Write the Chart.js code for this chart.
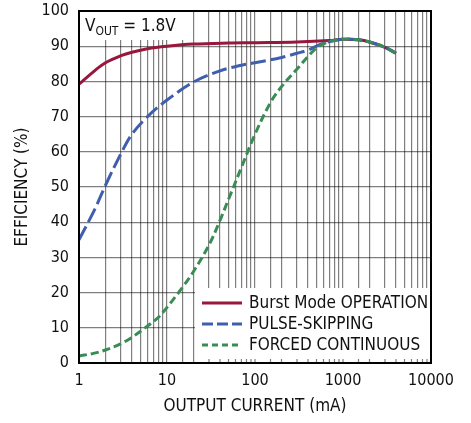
<!DOCTYPE html>
<html>
<head>
<meta charset="utf-8">
<script src="https://cdn.jsdelivr.net/npm/chart.js@4"></script>
<style>
  html, body { margin: 0; padding: 0; background: #fff; }
  #wrap { width: 471px; height: 423px; }
</style>
</head>
<body>
<div id="wrap"><canvas id="effChart" width="471" height="423"></canvas></div>
<script>
const FONT = '"DejaVu Sans Condensed", "Liberation Sans Narrow", Arial, sans-serif';
const FS = 16;

// output current (mA) and efficiency (%) per mode
const burstX = [1, 1.5, 2, 3, 4, 6, 10, 20, 50, 100, 300, 700, 1000, 1500, 2000, 3000, 4000];
const burstY = [79.2, 83, 85.3, 87.3, 88.3, 89.3, 90, 90.6, 90.9, 91, 91.2, 91.6, 92, 91.8, 91.2, 89.7, 88];

const pulseX = [1, 1.5, 2, 3, 4, 6, 10, 20, 40, 70, 100, 200, 300, 400, 550, 700, 1000, 1500, 2000, 3000, 4000];
const pulseY = [35, 43.5, 50.5, 59.5, 65, 70, 74.7, 79.8, 83, 84.6, 85.3, 86.8, 88, 88.9, 90.5, 91.3, 92, 91.8, 91.2, 89.7, 88];

const forcedX = [1, 1.5, 2, 3, 4, 6, 8, 10, 15, 20, 30, 40, 50, 70, 100, 150, 200, 300, 500, 700, 1000, 1500, 2000, 3000, 4000];
const forcedY = [2, 2.8, 3.7, 5.5, 7.3, 10.5, 13, 15.8, 21.5, 26, 33.5, 40.5, 46.5, 55.5, 65, 74, 78.5, 83.5, 89.5, 91.3, 92, 91.8, 91.2, 89.7, 88];

const seriesLabels = ['Burst Mode OPERATION', 'PULSE-SKIPPING', 'FORCED CONTINUOUS'];
const seriesColors = ['#98173d', '#3f5fae', '#3a8c55'];
const seriesDash = [[], [15, 5], [8, 4]];
const xMajor = ['1', '10', '100', '1000', '10000'];

function pts(xs, ys) {
  return xs.map((x, i) => ({ x: x, y: ys[i] }));
}

const datasets = [pts(burstX, burstY), pts(pulseX, pulseY), pts(forcedX, forcedY)].map((d, i) => ({
  label: seriesLabels[i],
  data: d,
  borderColor: seriesColors[i],
  borderDash: seriesDash[i],
  borderWidth: 3,
  pointRadius: 0,
  fill: false,
  tension: 0.35
}));
// dashed curves on top of the solid one
datasets[0].order = 3;
datasets[1].order = 2;
datasets[2].order = 1;

const GRID = 'rgba(0,0,0,0.5)';

const overlay = {
  id: 'overlay',
  beforeDatasetsDraw(chart) {
    const ctx = chart.ctx;
    const a = chart.chartArea;
    const xs = chart.scales.x;
    ctx.save();
    ctx.fillStyle = '#fff';
    // white patch behind the V_OUT note
    ctx.fillRect(a.left, a.top, 192 - a.left, 40 - a.top);
    // legend box hides the grid
    const bx = 195, by = 288;
    ctx.fillRect(bx, by, a.right - bx, a.bottom - by);
    // short ticks along bottom edge inside the box
    ctx.strokeStyle = GRID;
    ctx.lineWidth = 1.2;
    xs.ticks.forEach(t => {
      const px = xs.getPixelForValue(t.value);
      if (px > bx && px < a.right) {
        ctx.beginPath();
        ctx.moveTo(px, a.bottom);
        ctx.lineTo(px, a.bottom - 4);
        ctx.stroke();
      }
    });
    // legend entries
    ctx.font = '17px ' + FONT;
    ctx.textBaseline = 'middle';
    ctx.textAlign = 'left';
    const rows = [303, 324, 345];
    chart.data.datasets.forEach((ds, i) => {
      ctx.strokeStyle = ds.borderColor;
      ctx.lineWidth = 3;
      ctx.setLineDash(i === 1 ? [11, 4] : i === 2 ? [6, 4] : []);
      ctx.beginPath();
      ctx.moveTo(202, rows[i]);
      ctx.lineTo(242, rows[i]);
      ctx.stroke();
      ctx.setLineDash([]);
      ctx.fillStyle = '#111';
      ctx.fillText(ds.label, 249, rows[i] + 1);
    });
    ctx.restore();
  },
  afterDraw(chart) {
    const ctx = chart.ctx;
    const a = chart.chartArea;
    ctx.save();
    ctx.strokeStyle = '#000';
    ctx.lineWidth = 2;
    ctx.strokeRect(a.left, a.top, a.right - a.left, a.bottom - a.top);
    // V_OUT note
    ctx.fillStyle = '#111';
    ctx.textBaseline = 'alphabetic';
    ctx.textAlign = 'left';
    ctx.font = '17px ' + FONT;
    let x = 85;
    const y = 31;
    ctx.fillText('V', x, y);
    x += ctx.measureText('V').width;
    ctx.font = '12px ' + FONT;
    ctx.fillText('OUT', x, y + 4);
    x += ctx.measureText('OUT').width;
    ctx.font = '17px ' + FONT;
    ctx.fillText(' = 1.8V', x, y);
    ctx.restore();
  }
};

const lineConfig = {
  type: 'line',
  data: { datasets: datasets },
  options: {
    responsive: false,
    animation: false,
    layout: { padding: { top: 11, right: 40, left: 0, bottom: 0 } },
    plugins: {
      legend: { display: false },
      tooltip: { enabled: false }
    },
    scales: {
      x: {
        type: 'logarithmic',
        min: 1,
        max: 10000,
        afterFit(scale) {
          scale.height = 60;
          scale.paddingLeft = 0;
          scale.paddingRight = 0;
        },
        grid: { color: GRID, drawTicks: false, lineWidth: 1.2 },
        border: { display: false },
        ticks: {
          autoSkip: false,
          maxRotation: 0,
          padding: 8,
          color: '#111',
          font: { family: FONT, size: FS },
          callback: v => xMajor.includes(String(v)) ? String(v) : ''
        },
        title: {
          display: true,
          text: 'OUTPUT CURRENT (mA)',
          color: '#111',
          font: { family: FONT, size: 17 },
          padding: { top: 0, bottom: 6 }
        }
      },
      y: {
        min: 0,
        max: 100,
        afterFit(scale) {
          scale.width = 79;
          scale.paddingTop = 0;
          scale.paddingBottom = 0;
        },
        grid: { color: GRID, drawTicks: false, lineWidth: 1.2 },
        border: { display: false },
        ticks: {
          stepSize: 10,
          padding: 10,
          color: '#111',
          font: { family: FONT, size: FS }
        },
        title: {
          display: true,
          text: 'EFFICIENCY (%)',
          color: '#111',
          font: { family: FONT, size: 17 },
          padding: { top: 12, bottom: 0 }
        }
      }
    }
  },
  plugins: [overlay]
};

const effChart = new Chart(document.getElementById('effChart'), lineConfig);
</script>
</body>
</html>
